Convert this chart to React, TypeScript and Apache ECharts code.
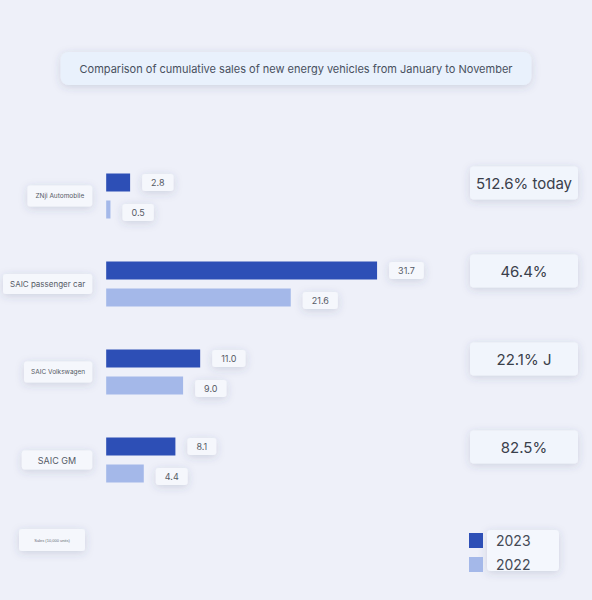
import * as echarts from 'echarts';
import React, { useEffect, useRef } from 'react';

const categories = ['ZNji Automobile', 'SAIC passenger car', 'SAIC Volkswagen', 'SAIC GM'];
const sales2023 = [2.8, 31.7, 11.0, 8.1];
const sales2022 = [0.5, 21.6, 9.0, 4.4];
const growth = ['512.6% today', '46.4%', '22.1% J', '82.5%'];

const boxShadow = {
  shadowBlur: 8,
  shadowColor: 'rgba(60, 70, 110, 0.18)',
  shadowOffsetY: 2,
};

const valueLabel = {
  show: true,
  position: 'right',
  distance: 12,
  fontSize: 9,
  color: '#555b66',
  backgroundColor: '#f5f7fc',
  padding: [4, 9],
  borderRadius: 3,
  formatter: (p: any) => Number(p.value).toFixed(1),
  ...boxShadow,
};

const App: React.FC = () => {
  const ref = useRef(null);
  const chart = useRef<echarts.ECharts>();

  useEffect(() => {
    chart.current = echarts.init(ref.current, null, { renderer: 'svg' });
    chart.current.setOption({
      animation: false,
      backgroundColor: '#eef0f9',
      textStyle: { fontFamily: 'Inter, "Noto Sans", sans-serif' },
      title: {
        text: 'Comparison of cumulative sales of new energy vehicles from January to November',
        left: 'center',
        top: 52,
        padding: [11, 19],
        backgroundColor: '#e9f1fc',
        borderRadius: 8,
        ...boxShadow,
        textStyle: { fontSize: 11, fontWeight: 'normal', color: '#48505e' },
      },
      legend: {
        orient: 'vertical',
        left: 464,
        top: 528,
        itemWidth: 14,
        itemHeight: 15,
        itemGap: 9,
        icon: 'rect',
        textStyle: { fontSize: 14, color: '#444a55', padding: [0, 0, 0, 8] },
        data: ['2023', '2022'],
      },
      graphic: [
        {
          type: 'rect',
          z: 0,
          shape: { x: 487, y: 530, width: 72, height: 41, r: 4 },
          style: { fill: '#f4f7fd', ...boxShadow },
        },
        {
          type: 'group',
          children: [
            {
              type: 'rect',
              shape: { x: 19, y: 529, width: 66, height: 22, r: 3 },
              style: { fill: '#f5f7fc', ...boxShadow },
            },
            {
              type: 'text',
              x: 52,
              y: 540,
              style: {
                text: 'Sales (10,000 units)',
                fontSize: 4,
                fill: '#666c78',
                align: 'center',
                verticalAlign: 'middle',
              },
            },
          ],
        },
      ],
      grid: { left: 102, top: 152, width: 346, height: 352 },
      xAxis: {
        type: 'value',
        min: 0,
        max: 40,
        show: false,
      },
      yAxis: [
        {
          type: 'category',
          inverse: true,
          data: categories,
          axisLine: { show: false },
          axisTick: { show: false },
          splitLine: { show: false },
          axisLabel: {
            margin: 14,
            formatter: (v: string, i: number) => `{c${i}|${v}}`,
            rich: {
              c0: { fontSize: 6.5, color: '#555b66', backgroundColor: '#f5f7fc', padding: [7, 8], borderRadius: 3, ...boxShadow },
              c1: { fontSize: 8, color: '#555b66', backgroundColor: '#f5f7fc', padding: [6, 7], borderRadius: 3, ...boxShadow },
              c2: { fontSize: 6.5, color: '#555b66', backgroundColor: '#f5f7fc', padding: [7, 7], borderRadius: 3, ...boxShadow },
              c3: { fontSize: 9, color: '#555b66', backgroundColor: '#f5f7fc', padding: [5, 16], borderRadius: 3, ...boxShadow },
            },
          },
        },
        {
          type: 'category',
          inverse: true,
          position: 'right',
          data: growth,
          axisLine: { show: false },
          axisTick: { show: false },
          splitLine: { show: false },
          axisLabel: {
            margin: 22,
            align: 'left',
            padding: [0, 0, 26, 0],
            formatter: (v: string) => `{g|${v}}`,
            rich: {
              g: {
                fontSize: 15,
                color: '#3a404b',
                backgroundColor: '#f1f5fc',
                borderRadius: 4,
                padding: [9, 12],
                width: 84,
                align: 'center',
                ...boxShadow,
              },
            },
          },
        },
      ],
      series: [
        {
          name: '2023',
          type: 'bar',
          data: sales2023,
          barWidth: 18,
          barGap: '50%',
          itemStyle: { color: '#2d4fb6' },
          label: valueLabel,
        },
        {
          name: '2022',
          type: 'bar',
          data: sales2022,
          barWidth: 18,
          itemStyle: { color: '#a4b8e9' },
          label: { ...valueLabel, offset: [0, 3] },
        },
      ],
    });

    return () => {
      chart.current?.dispose();
    };
  }, []);

  return (
    <div
      ref={ref}
      style={{ position: 'fixed', left: 0, top: 0, width: 592, height: 600 }}
    ></div>
  );
};

export default App;
